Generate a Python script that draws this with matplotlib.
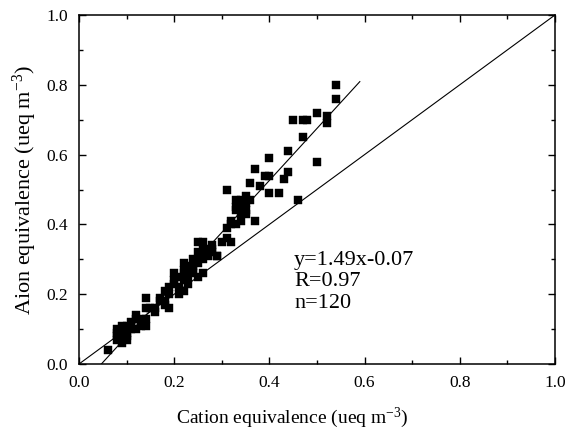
import numpy as np
import matplotlib
matplotlib.use("Agg")
from matplotlib import pyplot as plt
from matplotlib.ticker import MultipleLocator

plt.rcParams['font.family'] = ['Liberation Serif', 'DejaVu Serif']
plt.rcParams['mathtext.fontset'] = 'custom'
plt.rcParams['mathtext.rm'] = 'Liberation Serif'
plt.rcParams['mathtext.it'] = 'Liberation Serif:italic'

# cation vs anion equivalence (ueq m-3)
cation = [0.06,
          0.08, 0.08, 0.08, 0.09, 0.09, 0.09, 0.09, 0.10, 0.10, 0.10, 0.10, 0.09, 0.08,
          0.11, 0.11, 0.12, 0.12, 0.12, 0.13, 0.13,
          0.14, 0.14, 0.14, 0.14, 0.15, 0.16,
          0.17, 0.17, 0.18, 0.18, 0.18, 0.19, 0.19, 0.19,
          0.20, 0.20, 0.20, 0.21, 0.21, 0.22, 0.22, 0.22, 0.22,
          0.23, 0.23, 0.23, 0.23, 0.24, 0.24, 0.24,
          0.25, 0.25, 0.25, 0.25, 0.26, 0.26, 0.26, 0.26,
          0.27, 0.27, 0.27, 0.28, 0.28, 0.29,
          0.30, 0.31, 0.31, 0.31, 0.32, 0.32, 0.32, 0.33, 0.33, 0.33,
          0.34, 0.34, 0.34, 0.35, 0.35, 0.35, 0.35, 0.36, 0.36, 0.37, 0.37,
          0.38, 0.39, 0.40, 0.40, 0.40, 0.42, 0.43, 0.44, 0.44, 0.45, 0.46,
          0.47, 0.47, 0.48, 0.50, 0.50, 0.52, 0.52, 0.54, 0.54,
          0.09, 0.10, 0.11, 0.13, 0.16, 0.21, 0.22, 0.24, 0.25, 0.26, 0.28, 0.29,
          0.33, 0.34]
anion = [0.04,
         0.07, 0.09, 0.08, 0.06, 0.08, 0.10, 0.11, 0.07, 0.09, 0.11, 0.10, 0.09, 0.10,
         0.10, 0.12, 0.10, 0.13, 0.14, 0.12, 0.13,
         0.11, 0.13, 0.16, 0.19, 0.16, 0.15,
         0.19, 0.18, 0.21, 0.18, 0.17, 0.16, 0.22, 0.20,
         0.26, 0.23, 0.24, 0.20, 0.25, 0.29, 0.24, 0.21, 0.27,
         0.27, 0.23, 0.25, 0.28, 0.30, 0.28, 0.26,
         0.35, 0.32, 0.25, 0.30, 0.35, 0.30, 0.26, 0.33,
         0.33, 0.31, 0.32, 0.34, 0.32, 0.31,
         0.35, 0.36, 0.39, 0.50, 0.35, 0.40, 0.41, 0.40, 0.44, 0.47,
         0.43, 0.45, 0.41, 0.44, 0.48, 0.46, 0.43, 0.52, 0.47, 0.41, 0.56,
         0.51, 0.54, 0.54, 0.59, 0.49, 0.49, 0.53, 0.55, 0.61, 0.70, 0.47,
         0.70, 0.65, 0.70, 0.72, 0.58, 0.71, 0.69, 0.76, 0.80,
         0.07, 0.08, 0.11, 0.11, 0.16, 0.22, 0.26, 0.27, 0.29, 0.31, 0.33, 0.31,
         0.45, 0.47]

slope, intercept = 1.49, -0.07
fit_range = [0.047, 0.59]

fig = plt.figure(figsize=(5.67, 4.36), dpi=100)
ax = fig.add_axes([0.1393, 0.1651, 0.8395, 0.8005])

ax.plot([0, 1], [0, 1], color='black', lw=0.8)
fx = np.array(fit_range)
ax.plot(fx, slope * fx + intercept, color='black', lw=0.8)
ax.plot(cation, anion, ls='none', marker='s', ms=5.3, color='black', mec='black', mew=0.3)

ax.set_xlim(0, 1)
ax.set_ylim(0, 1)
ax.xaxis.set_major_locator(MultipleLocator(0.2))
ax.yaxis.set_major_locator(MultipleLocator(0.2))
ax.xaxis.set_minor_locator(MultipleLocator(0.1))
ax.yaxis.set_minor_locator(MultipleLocator(0.1))
ax.tick_params(which='both', direction='in', top=True, right=True, width=1.0)
ax.tick_params(which='major', length=5, labelsize=12.5, pad=8)
ax.tick_params(which='minor', length=3)
for sp in ax.spines.values():
    sp.set_linewidth(1.1)

ax.set_xlabel(r'Cation equivalence (ueq m$^{-3}$)', fontsize=14)
ax.set_ylabel(r'Aion equivalence (ueq m$^{-3}$)', fontsize=16)
ax.xaxis.set_label_coords(0.447, -0.12)
ax.yaxis.set_label_coords(-0.085, 0.5)

ax.text(0.452, 0.235, 'y=1.49x-0.07\nR=0.97\nn=120', fontsize=16,
        va='center', ha='left', linespacing=1.2)

fig.savefig('out.png', dpi=100)
